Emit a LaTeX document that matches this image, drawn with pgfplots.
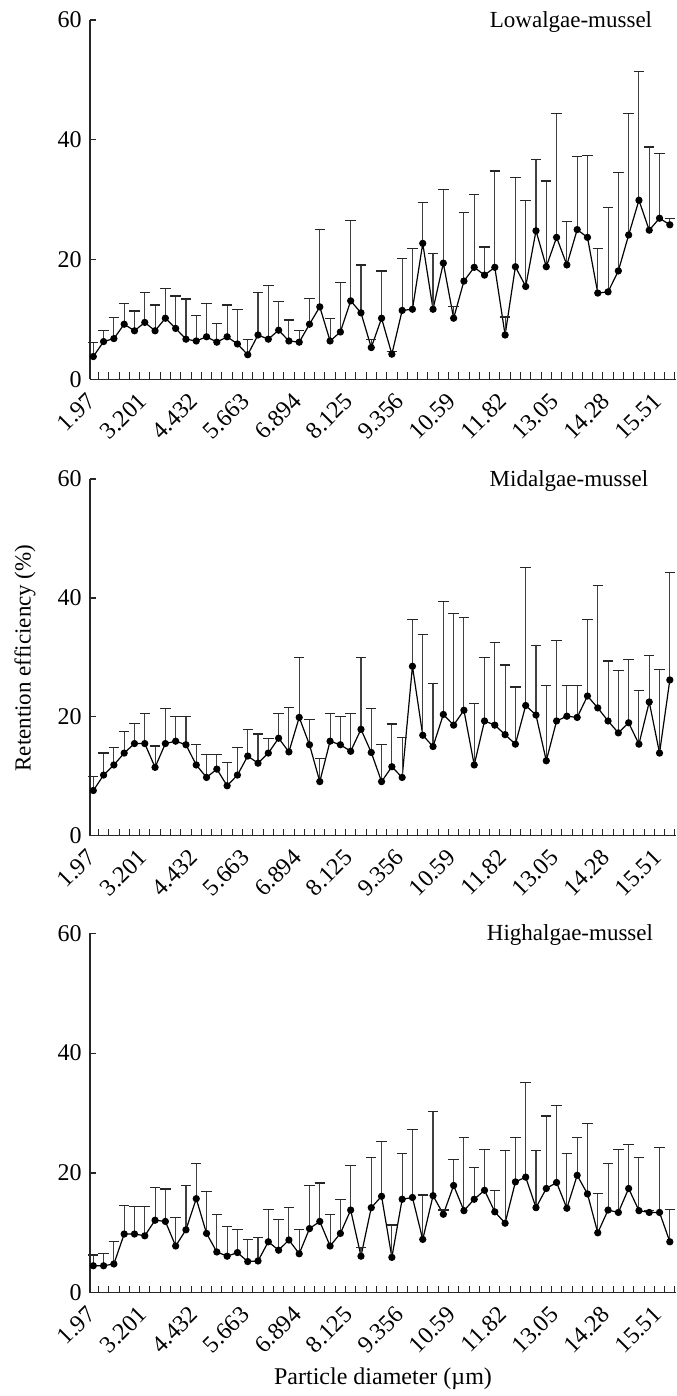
\documentclass[border=0pt]{standalone}
\usepackage{fontspec}
\setmainfont{Liberation Serif}
\usepackage{pgfplots}
\usepackage{pgfplotstable}
\pgfplotsset{compat=1.18}

\pgfplotstableread{
i y e
0 3.8 2.3
1 6.3 1.9
2 6.8 3.5
3 9.2 3.4
4 8.1 3.3
5 9.5 5.0
6 8.1 4.3
7 10.2 4.9
8 8.5 5.4
9 6.7 6.7
10 6.4 4.2
11 7.1 5.5
12 6.2 3.1
13 7.1 5.3
14 5.9 5.7
15 4.1 2.5
16 7.4 7.1
17 6.7 8.9
18 8.2 4.8
19 6.4 3.5
20 6.2 2.0
21 9.2 4.3
22 12.1 12.9
23 6.4 3.8
24 7.9 8.2
25 13.1 13.4
26 11.1 8.0
27 5.3 1.3
28 10.2 7.9
29 4.2 0.4
30 11.5 8.7
31 11.7 10.2
32 22.7 6.8
33 11.7 9.3
34 19.4 12.3
35 10.2 2.0
36 16.4 11.4
37 18.7 12.1
38 17.4 4.7
39 18.7 16.1
40 7.4 3.0
41 18.8 14.9
42 15.5 14.3
43 24.8 11.9
44 18.8 14.3
45 23.7 20.7
46 19.1 7.3
47 25.0 12.2
48 23.7 13.7
49 14.4 7.5
50 14.6 14.1
51 18.1 16.4
52 24.1 20.3
53 29.9 21.5
54 24.9 13.9
55 26.9 10.8
56 25.8 1.1
}\lowdata

\pgfplotstableread{
i y e
0 7.6 2.4
1 10.2 3.7
2 11.9 3.0
3 13.9 3.6
4 15.5 3.4
5 15.5 5.1
6 11.5 3.6
7 15.5 5.9
8 15.9 4.2
9 15.3 4.8
10 11.9 3.5
11 9.8 3.8
12 11.2 2.5
13 8.4 3.9
14 10.2 4.7
15 13.4 4.5
16 12.2 4.9
17 13.9 2.5
18 16.4 4.2
19 14.1 7.5
20 19.9 10.1
21 15.3 4.3
22 9.1 3.9
23 15.9 4.7
24 15.3 4.7
25 14.2 6.4
26 17.9 12.1
27 14.0 7.4
28 9.1 6.3
29 11.6 7.2
30 9.8 6.7
31 28.5 7.9
32 16.9 16.9
33 15.0 10.6
34 20.4 19.0
35 18.6 18.8
36 21.1 15.6
37 11.9 10.4
38 19.3 10.7
39 18.6 13.9
40 17.0 11.7
41 15.4 9.6
42 21.9 23.2
43 20.3 11.7
44 12.6 12.6
45 19.3 13.5
46 20.1 5.1
47 19.9 5.3
48 23.5 12.9
49 21.5 20.6
50 19.3 10.1
51 17.3 10.5
52 19.0 10.7
53 15.4 9.0
54 22.5 7.8
55 13.9 14.1
56 26.2 18.1
}\middata

\pgfplotstableread{
i y e
0 4.5 1.8
1 4.5 2.1
2 4.8 3.7
3 9.8 4.8
4 9.8 4.6
5 9.5 4.9
6 12.1 5.5
7 11.9 5.4
8 7.8 4.8
9 10.5 7.4
10 15.7 5.9
11 9.9 7.0
12 6.8 6.2
13 6.1 4.9
14 6.7 3.8
15 5.2 3.7
16 5.3 3.9
17 8.5 5.4
18 7.1 5.1
19 8.8 5.4
20 6.5 4.1
21 10.7 7.2
22 11.9 6.4
23 7.8 5.3
24 9.9 5.7
25 13.8 7.4
26 6.1 1.5
27 14.2 8.4
28 16.1 9.1
29 5.9 5.4
30 15.6 7.7
31 15.9 11.4
32 8.9 7.4
33 16.2 14.0
34 13.1 0.7
35 17.9 4.4
36 13.7 12.2
37 15.6 5.3
38 17.1 6.8
39 13.5 3.6
40 11.6 12.1
41 18.5 7.4
42 19.3 15.8
43 14.2 9.5
44 17.4 12.1
45 18.4 12.8
46 14.1 9.2
47 19.6 6.3
48 16.5 11.7
49 10.0 6.6
50 13.8 7.8
51 13.4 10.5
52 17.4 7.4
53 13.7 8.9
54 13.4 0.3
55 13.4 10.8
56 8.5 5.4
}\highdata

\pgfplotsset{
  panel/.style={
    scale only axis,
    width=293pt,
    xmin=-0.32, xmax=56.6, ymin=0, ymax=60,
    axis x line=bottom, axis y line=left,
    axis line style={-, line width=0.6pt, black!85},
    clip=false,
    xtick={0,5,...,55},
    xticklabels={1.97,3.201,4.432,5.663,6.894,8.125,9.356,10.59,11.82,13.05,14.28,15.51},
    minor xtick={0.5,1.5,...,56.5},
    ytick={0,20,40,60},
    tick align=inside,
    major tick length=3pt,
    minor tick length=3.5pt,
    major x tick style={draw=none},
    minor x tick style={line width=0.5pt, black!85},
    major y tick style={line width=0.6pt, black!85},
    /pgf/number format/assume math mode=true,
    tick label style={font=\fontsize{12}{14}\selectfont},
    xticklabel style={xshift=-4pt, yshift=-3pt, rotate=45, anchor=north east, inner sep=2pt},
    yticklabel style={inner sep=4pt},
  },
  series/.style={
    black, line width=0.6pt, mark=*, mark size=1.5pt,
    mark options={solid, fill=black},
    error bars/.cd, y dir=plus, y explicit,
    error bar style={black!75, line width=0.55pt},
    error mark options={rotate=90, black!85, mark size=2.6pt, line width=0.6pt},
  },
}

\begin{document}
\begin{tikzpicture}
\begin{axis}[panel, height=179.65pt, at={(45pt,-189.65pt)}, anchor=south west]
\addplot[series] table[x=i, y=y, y error=e] {\lowdata};
\node[font=\fontsize{11.5}{13}\selectfont] at (axis cs:46.4,59.7) {Lowalgae-mussel};
\end{axis}
\begin{axis}[panel, height=178.35pt, at={(45pt,-417.85pt)}, anchor=south west]
\addplot[series] table[x=i, y=y, y error=e] {\middata};
\node[font=\fontsize{11.5}{13}\selectfont] at (axis cs:46.2,59.7) {Midalgae-mussel};
\end{axis}
\begin{axis}[panel, height=179.7pt, at={(45pt,-646.35pt)}, anchor=south west]
\addplot[series] table[x=i, y=y, y error=e] {\highdata};
\node[font=\fontsize{11.5}{13}\selectfont] at (axis cs:46.3,59.7) {Highalgae-mussel};
\end{axis}
\node[rotate=90, font=\fontsize{11.5}{13}\selectfont] at (12.5pt,-329pt) {Retention efficiency (\%)};
\node[font=\fontsize{12}{14}\selectfont] at (191.5pt,-689.5pt) {Particle diameter (µm)};
\pgfresetboundingbox
\path[use as bounding box] (0pt,0pt) rectangle (338pt,-698pt);
\end{tikzpicture}
\end{document}
